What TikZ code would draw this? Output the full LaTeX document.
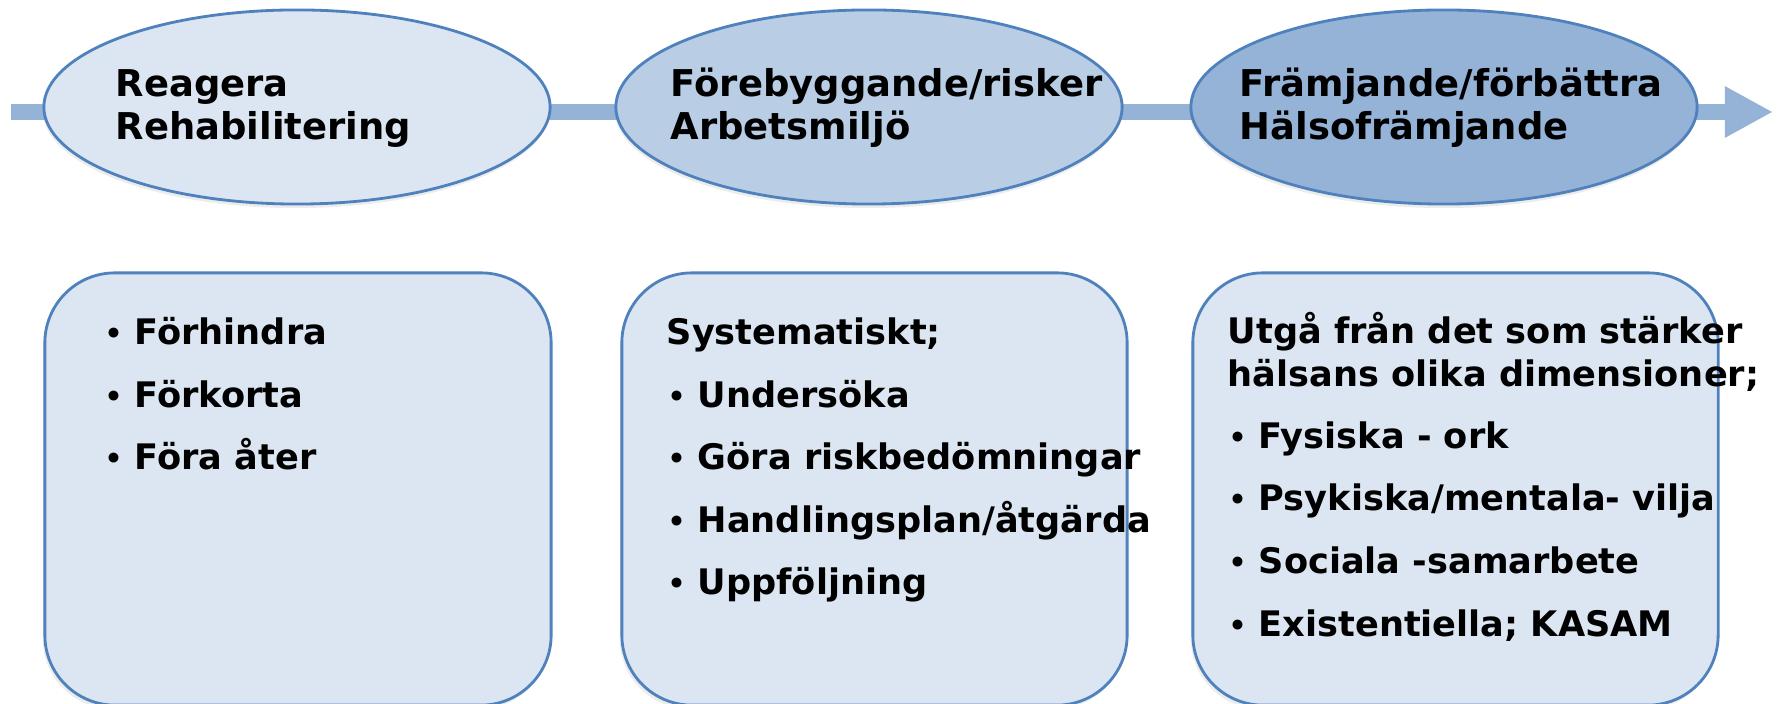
\documentclass[tikz,border=0pt]{standalone}
\usepackage{fontspec}
\setmainfont{DejaVu Sans}
\usetikzlibrary{arrows.meta, shapes.geometric, shadows}

\definecolor{paleblue}{HTML}{DCE6F2}
\definecolor{midblue}{HTML}{B9CDE5}
\definecolor{deepblue}{HTML}{95B3D7}
\definecolor{edgeblue}{HTML}{4F81BD}

\newcommand{\bulletline}[1]{\makebox[0.30cm][l]{\raisebox{0.3pt}{\scalebox{0.8}{•}}}#1}

\begin{document}
\begin{tikzpicture}[x=0.01cm, y=-0.01cm,
    stage/.style={ellipse, draw=edgeblue, line width=0.8pt, inner sep=0pt,
        minimum width=5.06cm, minimum height=1.94cm,
        drop shadow={shadow xshift=-0.01cm, shadow yshift=-0.04cm, opacity=0.15}},
    stagebox/.style={rectangle, rounded corners=0.7cm, draw=edgeblue, line width=0.8pt,
        fill=paleblue, inner sep=0pt,
        drop shadow={shadow xshift=-0.02cm, shadow yshift=-0.04cm, opacity=0.15}},
    linetext/.style={anchor=base west, inner sep=0pt, font=\fontsize{10.5}{12}\selectfont\bfseries},
    boxtext/.style={anchor=base west, inner sep=0pt, font=\fontsize{10}{12}\selectfont\bfseries}]
    \useasboundingbox (0,0) rectangle (1781,704);
    \clip (0,0) rectangle (1781,704);

    % time line behind the stages
    \coordinate (start) at (11,112);
    \coordinate (end) at (1773,112);
    \draw[line width=0.16cm, deepblue, -{Triangle[length=0.48cm, width=0.48cm]}] (start) -- (end);

    % stages
    \node[stage, fill=paleblue] (react) at (297,107) {};
    \node[stage, fill=midblue] (prevent) at (869,107) {};
    \node[stage, fill=deepblue] (promote) at (1444,107) {};

    \node[linetext] (react1) at (115,97) {Reagera};
    \node[linetext] (react2) at (115,140) {Rehabilitering};
    \node[linetext] (prevent1) at (670,97) {Förebyggande/risker};
    \node[linetext] (prevent2) at (670,140) {Arbetsmiljö};
    \node[linetext] (promote1) at (1239,97) {Främjande/förbättra};
    \node[linetext] (promote2) at (1239,140) {Hälsofrämjande};

    % boxes below
    \node[stagebox, minimum width=5.06cm, minimum height=4.32cm] (reactbox) at (298,489) {};
    \node[stagebox, minimum width=5.05cm, minimum height=4.32cm] (preventbox) at (874.5,489) {};
    \node[stagebox, minimum width=5.25cm, minimum height=4.32cm] (promotebox) at (1455.5,489) {};

    \node[boxtext] (r1) at (104,345) {\bulletline{Förhindra}};
    \node[boxtext] (r2) at (104,408) {\bulletline{Förkorta}};
    \node[boxtext] (r3) at (104,470) {\bulletline{Föra åter}};

    \node[boxtext] (p0) at (666,345) {Systematiskt;};
    \node[boxtext] (p1) at (667,408) {\bulletline{Undersöka}};
    \node[boxtext] (p2) at (667,470) {\bulletline{Göra riskbedömningar}};
    \node[boxtext] (p3) at (667,533) {\bulletline{Handlingsplan/åtgärda}};
    \node[boxtext] (p4) at (667,595) {\bulletline{Uppföljning}};

    \node[boxtext] (h0a) at (1227,344) {Utgå från det som stärker};
    \node[boxtext] (h0b) at (1227,387) {hälsans olika dimensioner;};
    \node[boxtext] (h1) at (1228,449) {\bulletline{Fysiska - ork}};
    \node[boxtext] (h2) at (1228,511) {\bulletline{Psykiska/mentala- vilja}};
    \node[boxtext] (h3) at (1228,574) {\bulletline{Sociala -samarbete}};
    \node[boxtext] (h4) at (1228,637) {\bulletline{Existentiella; KASAM}};
\end{tikzpicture}
\end{document}
